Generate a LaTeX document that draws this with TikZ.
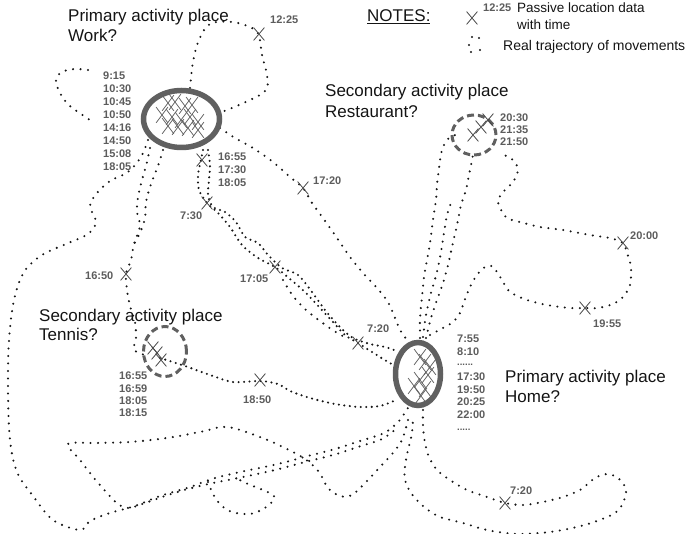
\documentclass[tikz,border=0pt]{standalone}
\usepackage{fontspec}
\setmainfont{Liberation Sans}
\usetikzlibrary{shapes.misc,shapes.geometric}
\definecolor{ringgray}{HTML}{606060}
\definecolor{labgray}{HTML}{5C5C5C}
\definecolor{dotcol}{HTML}{161616}
\begin{document}
\begin{tikzpicture}[x=1pt,y=-1pt,
  traj/.style={draw=dotcol, line width=2.3pt, line cap=round, dash pattern=on 0pt off 7.5pt},
  dense/.style={traj, dash pattern=on 0pt off 5.5pt},
  title/.style={anchor=base west, inner sep=0pt, font=\fontsize{17}{20}\selectfont, text=black!92},
  note/.style={anchor=base west, inner sep=0pt, font=\fontsize{13.5}{16}\selectfont, text=black!92},
  tm/.style={anchor=base west, inner sep=0pt, font=\fontsize{11}{13}\selectfont\bfseries, text=labgray},
  xmk/.style={draw=black!72, cross out, line width=0.8pt, minimum width=10pt, minimum height=12pt, inner sep=0pt},
  cx/.style={xmk, draw=black!62, line width=0.75pt, minimum width=11pt, minimum height=15pt},
  ring/.style={draw=ringgray, line width=5.5pt, ellipse, inner sep=0pt},
  dring/.style={draw=ringgray, line width=3pt, dash pattern=on 7pt off 4pt, ellipse, inner sep=0pt}
]
\useasboundingbox (0,0) rectangle (689,534);

% ---------- trajectories ----------
% loop above the workplace through 12:25
\draw[traj] plot[smooth, tension=0.6] coordinates {(190,88) (193,62) (199,40) (210,24) (232,22) (252,28) (259,36) (262,55) (267,75) (266,90) (250,100) (222,112)};
% small loop left of the workplace
\draw[traj] plot[smooth, tension=0.6] coordinates {(88,70) (75,69) (62,72) (56,80) (60,93) (70,106) (93,122)};
% long detour down the left side and back to home
\draw[traj] plot[smooth, tension=0.55] coordinates {(148,140) (141,157) (128,172) (110,181) (97,193) (90,206) (96,222) (88,234) (66,244) (42,255) (24,272) (14,300) (9,340) (8,390) (10,440) (17,472) (33,496) (53,520) (80,530) (90,521) (110,513) (135,506) (160,496) (190,487) (215,478) (245,471) (278,464) (308,456) (335,449) (360,441) (384,433) (399,421) (409,406)};
% teardrop loop towards the lower left
\draw[traj] plot[smooth, tension=0.55] coordinates {(408,420) (402,440) (392,454) (380,467) (366,482) (352,495) (340,496) (328,488) (319,472) (305,459) (285,448) (260,437) (227,427) (200,432) (167,438) (130,442) (95,443) (68,444) (80,460) (94,478) (107,493) (118,504) (129,508) (145,503) (165,496) (188,489) (213,483) (243,477) (275,470) (305,462) (333,455) (358,447) (382,439) (397,428)};
% small loop under the return line
\draw[traj] plot[smooth, tension=0.6] coordinates {(208,482) (213,494) (221,505) (232,512) (250,514) (263,509) (272,502) (274,496) (263,490) (248,484) (236,478)};
% workplace - 16:50 - tennis
\draw[traj] plot[smooth, tension=0.5] coordinates {(150,148) (147,162) (142,180) (138,197) (137,212) (140,226) (134,244) (131,260) (126,274) (127,290) (130,306) (135,322) (136,338) (134,350) (148,356)};
\draw[traj] plot[smooth, tension=0.5] coordinates {(163,150) (158,166) (151,184) (146,202) (145,218) (140,233) (133,246)};
% workplace - 16:55 - 7:30 - 17:05 - 7:20 - home (bundle)
\draw[dense] plot[smooth, tension=0.5] coordinates {(203,150) (201,160) (198,175) (199,190) (207,203) (218,213) (230,227) (242,245) (258,258) (275,267) (290,279) (305,292) (320,308) (333,322) (345,335) (358,343) (372,352) (388,362) (400,368)};
\draw[dense] plot[smooth, tension=0.5] coordinates {(208,150) (210,165) (209,180) (208,195) (213,207) (225,212) (236,222) (245,237) (258,243) (268,255) (282,268) (298,275) (312,292) (325,310) (340,327) (353,338) (370,344) (385,347) (397,351)};
\draw[traj] plot[smooth, tension=0.5] coordinates {(283,280) (293,296) (306,310) (320,321) (334,331) (348,339)};
% workplace - 17:20 - home
\draw[traj] plot[smooth, tension=0.5] coordinates {(220,128) (235,138) (253,148) (273,162) (290,177) (303,188) (312,203) (323,218) (337,238) (350,257) (363,273) (377,288) (388,302) (395,318) (400,330) (407,340)};
% tennis - 18:50 - home
\draw[dense] plot[smooth, tension=0.5] coordinates {(160,358) (185,366) (210,375) (233,382) (260,381) (278,384) (290,391) (310,398) (335,404) (360,407) (380,406) (396,400)};
% home - restaurant
\draw[traj] plot[smooth, tension=0.5] coordinates {(420,338) (420,318) (422,297) (424,277) (427,260) (430,243) (433,220) (436,200) (437,185) (439,168) (442,150) (448,139) (460,133)};
\draw[traj] plot[smooth, tension=0.5] coordinates {(423,337) (426,315) (431,293) (437,272) (441,252) (444,233) (447,215) (452,200)};
\draw[traj] plot[smooth, tension=0.5] coordinates {(426,338) (431,318) (437,300) (443,283) (448,265) (452,247) (457,225) (461,205) (466,190) (470,170) (474,150)};
% home - 19:55 - 20:00 - restaurant
\draw[traj] plot[smooth, tension=0.5] coordinates {(430,335) (443,328) (453,322) (460,313) (464,302) (470,287) (477,275) (485,267) (492,266) (497,272) (502,280) (510,292) (527,300) (547,305) (570,308) (585,308) (598,308) (613,304) (623,297) (630,285) (631,267) (627,253) (623,243) (610,238) (590,235) (563,230) (540,227) (520,222) (507,218) (500,208) (498,200) (504,191) (513,182) (518,170) (513,160) (500,153)};
% home - 7:20 - loop to the lower right
\draw[traj] plot[smooth, tension=0.5] coordinates {(423,410) (423,426) (425,443) (429,457) (437,470) (450,480) (467,490) (487,497) (505,503) (523,505) (543,502) (563,497) (580,490) (595,478) (607,474) (618,478) (626,489) (623,503) (615,513) (597,521) (577,527) (550,532) (517,534) (487,530) (463,523) (440,517) (424,507) (411,493) (405,480) (405,466) (408,450) (412,433) (413,418)};

% ---------- activity places ----------
\node[ring, minimum width=76pt, minimum height=57pt] (work) at (181.5,119) {};
\node[ring, minimum width=45pt, minimum height=63pt] (home) at (418,374) {};
\node[dring, minimum width=43pt, minimum height=50pt] (tennis) at (165,351.5) {};
\node[dring, minimum width=44pt, minimum height=40pt] (rest) at (474,135) {};

% ---------- location records ----------
\foreach \p [count=\k] in {(168,103),(175,102),(185,106),(192,105),(162,115),(172,117),(181,120),(190,117),(198,122),(168,126),(178,127),(188,128),(198,130)}
  \node[cx] (wx\k) at \p {};
\foreach \p [count=\k] in {(420,357),(425,362),(430,367),(428,375),(420,380),(414,386),(425,389),(421,396)}
  \node[cx] (hx\k) at \p {};
\foreach \p [count=\k] in {(153,348),(157,353),(161,360)}
  \node[xmk] (tx\k) at \p {};
\foreach \p [count=\k] in {(473,135),(481,127),(488,120)}
  \node[xmk] (rx\k) at \p {};
\node[xmk] (x1225) at (259,34) {};
\node[xmk] (x1655) at (202,160) {};
\node[xmk] (x1720) at (303,188) {};
\node[xmk] (x730) at (207,203) {};
\node[xmk] (x1650) at (126,274) {};
\node[xmk] (x1705) at (275,267) {};
\node[xmk] (x720a) at (358,343) {};
\node[xmk] (x1850) at (260,380) {};
\node[xmk] (x2000) at (623,243) {};
\node[xmk] (x1955) at (585,308) {};
\node[xmk] (x720b) at (505,503) {};

% ---------- time labels ----------
\foreach \t [count=\i from 0] in {9:15,10:30,10:45,10:50,14:16,14:50,15:08,18:05}
  \node[tm] (lw\i) at (103,{80+12.86*\i}) {\t};
\foreach \t [count=\i from 0] in {16:55,17:30,18:05}
  \node[tm] (lb\i) at (218,{160.5+13*\i}) {\t};
\foreach \t [count=\i from 0] in {16:55,16:59,18:05,18:15}
  \node[tm] (lt\i) at (119,{380+12.3*\i}) {\t};
\foreach \t [count=\i from 0] in {20:30,21:35,21:50}
  \node[tm] (lr\i) at (500,{122+12*\i}) {\t};
\node[tm] (l1225) at (270,24) {12:25};
\node[tm] (l1720) at (313,185) {17:20};
\node[tm] (l730) at (180,220) {7:30};
\node[tm] (l1650) at (85,280) {16:50};
\node[tm] (l1705) at (240,283) {17:05};
\node[tm] (l2000) at (630,240) {20:00};
\node[tm] (l1955) at (593,328) {19:55};
\node[tm] (l720a) at (367,333) {7:20};
\node[tm] (l1850) at (243,404) {18:50};
\node[tm] (l720b) at (510,495) {7:20};
\node[tm] (lh0) at (457,343) {7:55};
\node[tm] (lh1) at (457,356) {8:10};
\node[tm, font=\fontsize{9.5}{11}\selectfont\bfseries] (lh2) at (457,366) {......};
\node[tm] (lh3) at (457,381) {17:30};
\node[tm] (lh4) at (457,393.5) {19:50};
\node[tm] (lh5) at (457,406) {20:25};
\node[tm] (lh6) at (457,418.5) {22:00};
\node[tm, font=\fontsize{9.5}{11}\selectfont\bfseries] (lh7) at (457,430.5) {.....};

% ---------- place titles ----------
\node[title] (tw1) at (68,22) {Primary activity place};
\node[title] (tw2) at (68,42) {Work?};
\node[title] (tr1) at (325,97) {Secondary activity place};
\node[title] (tr2) at (325,118) {Restaurant?};
\node[title] (tt1) at (39,322) {Secondary activity place};
\node[title] (tt2) at (39,341) {Tennis?};
\node[title] (th1) at (505,383) {Primary activity place};
\node[title] (th2) at (505,403) {Home?};

% ---------- notes ----------
\node[title] (notes) at (367,22) {\underline{NOTES:}};
\node[xmk] (nx) at (472,18) {};
\node[tm] (n1225) at (483,12) {12:25};
\node[note] (n1) at (517,13) {Passive location data};
\node[note] (n2) at (517,30) {with time};
\foreach \p [count=\k] in {(472,37),(479,38),(469,45),(471,52),(480,50)}
  \fill[dotcol] \p circle (1.1pt);
\node[note, font=\fontsize{14}{16}\selectfont] (n3) at (503,51) {Real trajectory of movements};
\end{tikzpicture}
\end{document}
